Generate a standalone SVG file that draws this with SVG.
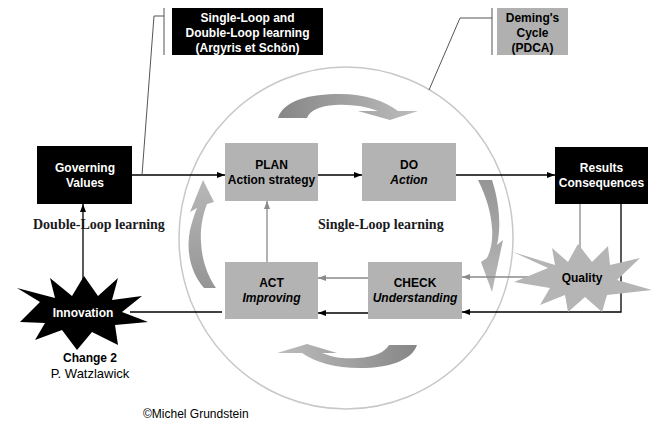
<svg xmlns="http://www.w3.org/2000/svg" width="656" height="425" viewBox="0 0 656 425">
<defs>
<style>
.t{font-family:"Liberation Sans",Arial,sans-serif;font-weight:bold;font-size:12px;text-anchor:middle}
.w{fill:#fff}
.k{fill:#000}
.i{font-style:italic}
.s{font-family:"Liberation Serif","Times New Roman",serif;font-weight:bold;font-size:14px;fill:#1a1a22}
.gb{fill:#b3b3b3}
.ln{fill:none;stroke:#000;stroke-width:1.3}
.lg{fill:none;stroke:#8a8a8a;stroke-width:1.3}
.br{fill:none;stroke:#555;stroke-width:1}
</style>
<marker id="ak" viewBox="0 0 8 6" refX="8" refY="3" markerWidth="8" markerHeight="6" markerUnits="userSpaceOnUse" orient="auto"><path d="M0,0L8,3L0,6z" fill="#000"/></marker>
<marker id="ag" viewBox="0 0 8 6" refX="8" refY="3" markerWidth="8" markerHeight="6" markerUnits="userSpaceOnUse" orient="auto"><path d="M0,0L8,3L0,6z" fill="#8a8a8a"/></marker>
<linearGradient id="gh" x1="0" y1="0" x2="1" y2="0"><stop offset="0" stop-color="#868686"/><stop offset="1" stop-color="#bdbdbd"/></linearGradient>
<linearGradient id="ghr" x1="0" y1="0" x2="1" y2="0"><stop offset="0" stop-color="#bdbdbd"/><stop offset="1" stop-color="#868686"/></linearGradient>
<linearGradient id="gv" x1="0" y1="0" x2="0" y2="1"><stop offset="0" stop-color="#b8b8b8"/><stop offset="1" stop-color="#959595"/></linearGradient>
<linearGradient id="gvr" x1="0" y1="0" x2="0" y2="1"><stop offset="0" stop-color="#959595"/><stop offset="1" stop-color="#b8b8b8"/></linearGradient>
</defs>
<rect width="656" height="425" fill="#fff"/>

<g id="cycle-circle">
<ellipse cx="346" cy="238" rx="167" ry="171" fill="none" stroke="#c8c8c8" stroke-width="1.5"/>
<path d="M278,118 C284,100 310,94 340,94 C365,94 385,101 398,111 L418,111 L390,120 L358,111 L378,111 C365,106 350,104 335,105 C320,106 310,110 307,118 Z" fill="url(#gh)"/>
<path d="M417,345 C412,360 390,368 360,368 C335,368 315,362 302,353 L277,353 L307,344 L337,353 L322,353 C335,358 345,359 358,358 C375,357 385,352 389,345 Z" fill="url(#ghr)"/>
<path d="M204,288 C190,272 186,250 190,230 C192,222 194,215 197,208 L190,212 L203,180 L214,202 L207,204 C203,214 200,228 201,242 C202,262 208,276 216,288 Z" fill="url(#gv)"/>
<path d="M478,180 C486,196 491,212 492,228 C493,240 491,250 487,258 L481,262 L492,292 L503,240 L497,245 C501,228 500,205 492,180 Z" fill="url(#gvr)"/>
</g>

<g id="connectors">
<path class="ln" d="M132,175H225" marker-end="url(#ak)"/>
<path class="ln" d="M318,175H362" marker-end="url(#ak)"/>
<path class="ln" d="M456,175H555" marker-end="url(#ak)"/>
<path class="lg" d="M580,204V262"/>
<path class="ln" stroke-width="1.6" d="M621,204V312H462" marker-end="url(#ak)"/>
<path class="lg" d="M540,277H462" marker-end="url(#ag)"/>
<path class="lg" d="M368,278H318" marker-end="url(#ag)"/>
<path class="ln" stroke-width="1.6" d="M368,313H318" marker-end="url(#ak)"/>
<path class="lg" d="M267,262V201" marker-end="url(#ag)"/>
<path class="ln" d="M222,312H130"/>
<path class="ln" d="M83,292V204" marker-end="url(#ak)"/>
<path class="br" d="M164,8V55M164,16H154L142,175"/>
<path class="br" d="M492,8V55M492,18H460L429,90"/>
</g>

<g id="label-argyris">
<rect x="172" y="8" width="151" height="47" fill="#000"/>
<text class="t w" x="247.5" y="22">Single-Loop and</text>
<text class="t w" x="247.5" y="37">Double-Loop learning</text>
<text class="t w" x="247.5" y="52">(Argyris et Schön)</text>
</g>
<g id="label-deming">
<rect x="497" y="8" width="71" height="47" fill="#b0b0b0"/>
<text class="t k" x="532.5" y="22">Deming's</text>
<text class="t k" x="532.5" y="37">Cycle</text>
<text class="t k" x="532.5" y="52">(PDCA)</text>
</g>

<g id="governing-values">
<rect x="37" y="146" width="95" height="58" fill="#000"/>
<text class="t w" x="85" y="172">Governing</text>
<text class="t w" x="85" y="187">Values</text>
</g>
<g id="plan">
<rect class="gb" x="225" y="143" width="93" height="58"/>
<text class="t k" x="271.5" y="169">PLAN</text>
<text class="t k" x="271.5" y="184">Action strategy</text>
</g>
<g id="do">
<rect class="gb" x="362" y="143" width="94" height="58"/>
<text class="t k" x="409" y="169">DO</text>
<text class="t k i" x="409" y="184">Action</text>
</g>
<g id="results">
<rect x="555" y="147" width="93" height="57" fill="#000"/>
<text class="t w" x="601.5" y="172">Results</text>
<text class="t w" x="601.5" y="187">Consequences</text>
</g>
<g id="act">
<rect class="gb" x="225" y="262" width="93" height="57"/>
<text class="t k" x="271.5" y="287">ACT</text>
<text class="t k i" x="271.5" y="302">Improving</text>
</g>
<g id="check">
<rect class="gb" x="368" y="262" width="94" height="57"/>
<text class="t k" x="415" y="287">CHECK</text>
<text class="t k i" x="415" y="302">Understanding</text>
</g>
<g id="quality">
<polygon points="513,252 548,268 514,282 550,288 540,305 565,295 568,312 585,297 602,312 607,295 652,290 617,280 640,258 610,265 608,246 592,262 578,244 568,262 552,248 555,265" fill="#b5b5b5"/>
<text class="t k" x="582" y="282">Quality</text>
</g>
<g id="innovation">
<polygon points="17,288 40,302 20,322 45,323 35,340 62,330 77,350 92,332 118,345 115,325 148,322 122,312 142,296 112,300 118,278 98,296 84,276 72,296 50,278 55,298" fill="#000"/>
<text class="t w" x="83" y="317">Innovation</text>
</g>

<g id="labels">
<text class="s" x="33" y="229">Double-Loop learning</text>
<text class="s" x="318" y="229">Single-Loop learning</text>
<text class="t k" x="90" y="362" font-size="14">Change 2</text>
<text x="90" y="378" font-family="Liberation Sans, Arial, sans-serif" font-size="13" text-anchor="middle" fill="#000">P. Watzlawick</text>
<text x="143" y="418" font-family="Liberation Sans, Arial, sans-serif" font-size="12" fill="#000">©Michel Grundstein</text>
</g>
</svg>
